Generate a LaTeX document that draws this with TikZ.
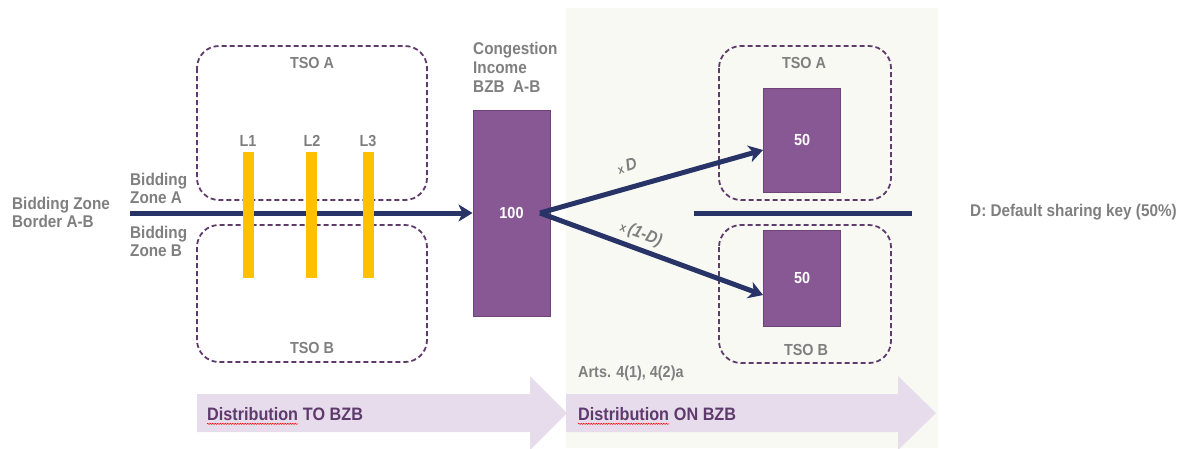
\documentclass[tikz,border=0pt]{standalone}
\usepackage{fontspec}
\setmainfont[FakeStretch=0.9]{Liberation Sans}
\usetikzlibrary{arrows.meta,decorations.pathmorphing}
\definecolor{txtgray}{HTML}{7F7F7F}
\definecolor{dpurple}{HTML}{5F3B6C}
\definecolor{boxpurple}{HTML}{875893}
\definecolor{boxedge}{HTML}{6E4478}
\definecolor{navy}{HTML}{283468}
\definecolor{gold}{HTML}{FFC000}
\definecolor{panel}{HTML}{F8F9F3}
\definecolor{lav}{HTML}{E7DCEB}
\definecolor{disttxt}{HTML}{5E3A6D}
\tikzset{
  tso/.style={draw=dpurple, line width=1.8pt, dash pattern=on 5pt off 3pt, rounded corners=22pt},
  bar/.style={fill=gold, draw=none, minimum width=11pt, minimum height=126pt, inner sep=0pt},
  pbox/.style={fill=boxpurple, draw=boxedge, line width=1pt, inner sep=0pt, text=white, font=\bfseries\fontsize{16}{18}\selectfont},
  lbl/.style={text=txtgray, font=\bfseries\fontsize{17}{18}\selectfont, inner sep=0pt},
  small/.style={text=txtgray, font=\bfseries\fontsize{16}{18}\selectfont, inner sep=0pt},
  flow/.style={draw=navy, line width=5pt, -{Stealth[length=14pt,width=17pt,inset=4pt]}},
  dist/.style={text=disttxt, font=\bfseries\fontsize{18}{20}\selectfont, inner sep=0pt},
  squig/.style={draw=red, line width=0.5pt, decorate, decoration={snake, segment length=2.5pt, amplitude=0.6pt}},
  band/.style={fill=lav, draw=none},
  share/.style={text=txtgray, inner sep=0pt}
}
\begin{document}
\begin{tikzpicture}[x=1pt,y=-1pt]
\useasboundingbox (0,0) rectangle (1194,448);
\clip (0,0) rectangle (1194,448);
% right panel
\fill[panel] (566,8) rectangle (938,448);
% bottom band arrows
\fill[band] (197,394) -- (530,394) -- (530,376) -- (567,413) -- (530,450) -- (530,432) -- (197,432) -- cycle;
\fill[band] (566,394) -- (898,394) -- (898,376) -- (936,413) -- (898,450) -- (898,432) -- (566,432) -- cycle;
\node[dist, anchor=west] (d1) at (207,414) {Distribution};
\node[dist, anchor=base west] (d1b) at (d1.base east) {\ TO BZB};
\draw[squig] ([yshift=-3pt]d1.south west) -- ([yshift=-3pt]d1.south east);
\node[dist, anchor=west] (d2) at (578,414) {Distribution};
\node[dist, anchor=base west] (d2b) at (d2.base east) {\ ON BZB};
\draw[squig] ([yshift=-3pt]d2.south west) -- ([yshift=-3pt]d2.south east);

% left TSO boxes
\draw[tso] (197,46) rectangle (427,200);
\draw[tso] (197,225) rectangle (427,362);
\node[small] (tsoA) at (312,63) {TSO A};
\node[small] (tsoB) at (312,348) {TSO B};

% left texts
\node[lbl, align=left, anchor=west] (bzb) at (12,212) {Bidding Zone\\Border A-B};
\node[lbl, align=left, anchor=west] (bza) at (130,188) {Bidding\\Zone A};
\node[lbl, align=left, anchor=west] (bzbb) at (130,241) {Bidding\\Zone B};

% congestion income
\node[lbl, align=left, anchor=north west, font=\bfseries\fontsize{17}{19}\selectfont] (cit) at (473,42) {Congestion\\Income\\BZB\ \ A-B};
\node[pbox, minimum width=77pt, minimum height=206pt] (ci) at (511.5,213) {100};

% main flow
\coordinate (start) at (130,213);
\draw[flow] (start) -- (ci.west);

% lines
\node[bar] (b1) at (248,215) {};
\node[bar] (b2) at (311,215) {};
\node[bar] (b3) at (368,215) {};
\node[small] (l1) at (248,141) {L1};
\node[small] (l2) at (312,141) {L2};
\node[small] (l3) at (368,141) {L3};

% right TSO boxes
\draw[tso] (719,46) rectangle (891,200);
\draw[tso] (719,225) rectangle (891,363);
\node[small] (rtsoA) at (804,63) {TSO A};
\node[small] (rtsoB) at (806,350) {TSO B};
\node[pbox, minimum width=77pt, minimum height=104pt] (a50) at (802,140) {50};
\node[pbox, minimum width=77pt, minimum height=96pt] (b50) at (802,278) {50};

% divider
\coordinate (dl) at (694,213);
\coordinate (dr) at (912,213);
\draw[navy, line width=5pt] (dl) -- (dr);

% branch arrows
\coordinate (fork) at (540,213);
\draw[flow] (fork) -- ([yshift=-10pt]a50.west);
\draw[flow] (fork) -- ([yshift=-17pt]b50.west);
\node[share, rotate=16] (xd) at (627,166) {{\bfseries\fontsize{12}{12}\selectfont x}\ \textit{\bfseries\fontsize{17}{17}\selectfont D}};
\node[share, rotate=-21] (x1d) at (641,234) {{\bfseries\fontsize{12}{12}\selectfont x}\ \textit{\bfseries\fontsize{17}{17}\selectfont (1-D)}};

% notes
\node[lbl, anchor=west] (key) at (970,212) {D: Default sharing key (50\%)};
\node[small, anchor=west] (arts) at (578,373) {Arts. 4(1), 4(2)a};
\end{tikzpicture}
\end{document}
